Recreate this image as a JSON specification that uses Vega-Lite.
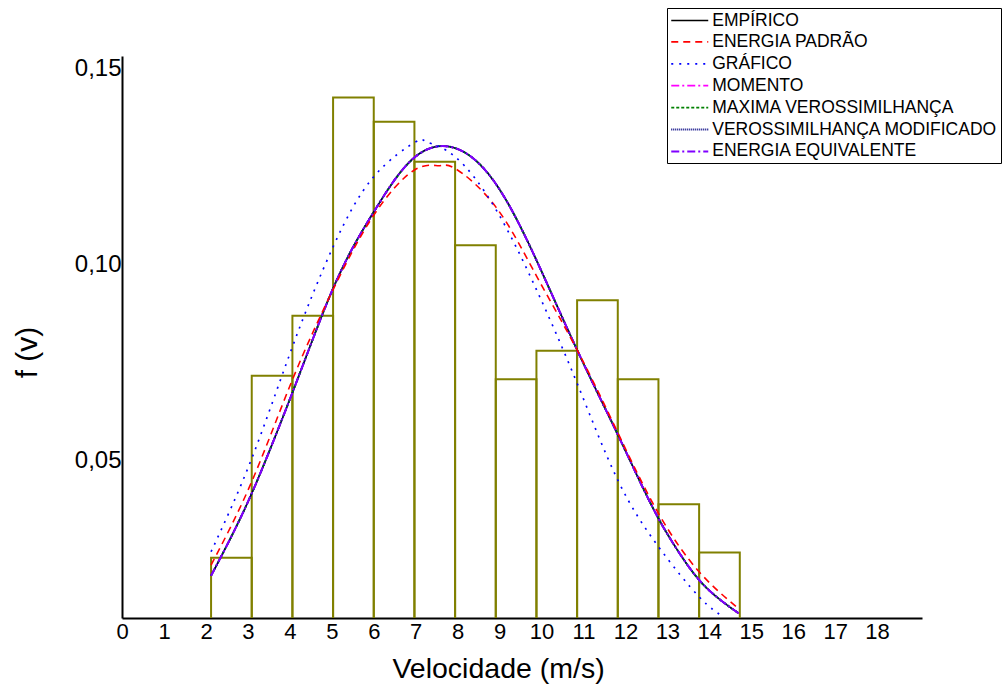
{
  "$schema": "https://vega.github.io/schema/vega-lite/v6.json",
  "width": 800,
  "height": 562,
  "autosize": {"type": "none"},
  "padding": {"left": 122, "top": 56, "right": 82, "bottom": 68},
  "background": "white",
  "config": {
    "view": {"stroke": null},
    "font": "Liberation Sans",
    "axis": {
      "domainColor": "black",
      "domainWidth": 2,
      "ticks": false,
      "grid": false,
      "labelColor": "black",
      "titleColor": "black",
      "labelFont": "Liberation Sans",
      "titleFont": "Liberation Sans",
      "titleFontWeight": "normal"
    },
    "legend": {
      "orient": "none",
      "legendX": 545,
      "legendY": -48,
      "symbolType": "M-2.114,0H2.114",
      "symbolSize": 306.25,
      "symbolOffset": 9.75,
      "symbolStrokeWidth": 2,
      "symbolFillColor": "transparent",
      "labelFont": "Liberation Sans",
      "labelFontSize": 17.5,
      "labelColor": "black",
      "labelOffset": 12.5,
      "labelLimit": 400,
      "rowPadding": 2.9,
      "padding": 3,
      "strokeColor": "black",
      "fillColor": "white"
    }
  },
  "encoding": {
    "x": {
      "field": "x",
      "type": "quantitative",
      "scale": {"domain": [-0.19, 19.48], "nice": false, "zero": false},
      "axis": {
        "title": "Velocidade (m/s)",
        "values": [-0.1869, 0.8444, 1.8756, 2.9068, 3.938, 4.9693, 6.0005, 7.0317, 8.063, 9.0942, 10.1254, 11.1566, 12.1878, 13.2191, 14.2503, 15.2815, 16.3127, 17.344, 18.3752],
        "labelExpr": "format(round((datum.value*40.67+7.6)/41.94), 'd')",
        "labelFontSize": 22,
        "labelBaseline": "alphabetic",
        "labelPadding": 20,
        "labelFlush": false,
        "labelOverlap": false,
        "titleFontSize": 28.5,
        "titleX": 376,
        "titleY": 59,
        "titleBaseline": "alphabetic",
        "titleAlign": "center"
      }
    },
    "y": {
      "field": "y",
      "type": "quantitative",
      "scale": {"domain": [0.0097, 0.1531], "nice": false, "zero": false},
      "axis": {
        "title": "f (v)",
        "values": [0.05, 0.1, 0.15],
        "labelExpr": "replace(format(datum.value, '.2f'), '.', ',')",
        "labelFontSize": 24,
        "labelPadding": 1,
        "labelFlush": false,
        "titleFontSize": 30,
        "titleX": -86,
        "titleY": 296,
        "titleAlign": "center",
        "titleBaseline": "alphabetic"
      }
    }
  },
  "layer": [
    {
      "data": {
        "values": [
          {"x": 2, "x2": 3, "y": 0.0251},
          {"x": 3, "x2": 4, "y": 0.0715},
          {"x": 4, "x2": 5, "y": 0.0868},
          {"x": 5, "x2": 6, "y": 0.1425},
          {"x": 6, "x2": 7, "y": 0.1363},
          {"x": 7, "x2": 8, "y": 0.1261},
          {"x": 8, "x2": 9, "y": 0.1048},
          {"x": 9, "x2": 10, "y": 0.0706},
          {"x": 10, "x2": 11, "y": 0.0779},
          {"x": 11, "x2": 12, "y": 0.0908},
          {"x": 12, "x2": 13, "y": 0.0706},
          {"x": 13, "x2": 14, "y": 0.0387},
          {"x": 14, "x2": 15, "y": 0.0264}
        ]
      },
      "mark": {"type": "rect", "fill": "transparent", "stroke": "#808000", "strokeWidth": 2, "clip": true},
      "encoding": {
        "x2": {"field": "x2"},
        "y2": {"datum": 0}
      }
    },
    {
      "data": {
        "values": [
          {"x": 2.0, "y": 0.0205, "s": ["EMPÍRICO", "MOMENTO", "MAXIMA VEROSSIMILHANÇA", "VEROSSIMILHANÇA MODIFICADO", "ENERGIA EQUIVALENTE"]},
          {"x": 2.5, "y": 0.0305, "s": ["EMPÍRICO", "MOMENTO", "MAXIMA VEROSSIMILHANÇA", "VEROSSIMILHANÇA MODIFICADO", "ENERGIA EQUIVALENTE"]},
          {"x": 3.0, "y": 0.0415, "s": ["EMPÍRICO", "MOMENTO", "MAXIMA VEROSSIMILHANÇA", "VEROSSIMILHANÇA MODIFICADO", "ENERGIA EQUIVALENTE"]},
          {"x": 3.5, "y": 0.0540, "s": ["EMPÍRICO", "MOMENTO", "MAXIMA VEROSSIMILHANÇA", "VEROSSIMILHANÇA MODIFICADO", "ENERGIA EQUIVALENTE"]},
          {"x": 4.0, "y": 0.0672, "s": ["EMPÍRICO", "MOMENTO", "MAXIMA VEROSSIMILHANÇA", "VEROSSIMILHANÇA MODIFICADO", "ENERGIA EQUIVALENTE"]},
          {"x": 4.5, "y": 0.0808, "s": ["EMPÍRICO", "MOMENTO", "MAXIMA VEROSSIMILHANÇA", "VEROSSIMILHANÇA MODIFICADO", "ENERGIA EQUIVALENTE"]},
          {"x": 5.0, "y": 0.0938, "s": ["EMPÍRICO", "MOMENTO", "MAXIMA VEROSSIMILHANÇA", "VEROSSIMILHANÇA MODIFICADO", "ENERGIA EQUIVALENTE"]},
          {"x": 5.5, "y": 0.1045, "s": ["EMPÍRICO", "MOMENTO", "MAXIMA VEROSSIMILHANÇA", "VEROSSIMILHANÇA MODIFICADO", "ENERGIA EQUIVALENTE"]},
          {"x": 6.0, "y": 0.1133, "s": ["EMPÍRICO", "MOMENTO", "MAXIMA VEROSSIMILHANÇA", "VEROSSIMILHANÇA MODIFICADO", "ENERGIA EQUIVALENTE"]},
          {"x": 6.5, "y": 0.1213, "s": ["EMPÍRICO", "MOMENTO", "MAXIMA VEROSSIMILHANÇA", "VEROSSIMILHANÇA MODIFICADO", "ENERGIA EQUIVALENTE"]},
          {"x": 7.0, "y": 0.1272, "s": ["EMPÍRICO", "MOMENTO", "MAXIMA VEROSSIMILHANÇA", "VEROSSIMILHANÇA MODIFICADO", "ENERGIA EQUIVALENTE"]},
          {"x": 7.5, "y": 0.1299, "s": ["EMPÍRICO", "MOMENTO", "MAXIMA VEROSSIMILHANÇA", "VEROSSIMILHANÇA MODIFICADO", "ENERGIA EQUIVALENTE"]},
          {"x": 8.0, "y": 0.1296, "s": ["EMPÍRICO", "MOMENTO", "MAXIMA VEROSSIMILHANÇA", "VEROSSIMILHANÇA MODIFICADO", "ENERGIA EQUIVALENTE"]},
          {"x": 8.5, "y": 0.1265, "s": ["EMPÍRICO", "MOMENTO", "MAXIMA VEROSSIMILHANÇA", "VEROSSIMILHANÇA MODIFICADO", "ENERGIA EQUIVALENTE"]},
          {"x": 9.0, "y": 0.1205, "s": ["EMPÍRICO", "MOMENTO", "MAXIMA VEROSSIMILHANÇA", "VEROSSIMILHANÇA MODIFICADO", "ENERGIA EQUIVALENTE"]},
          {"x": 9.5, "y": 0.1117, "s": ["EMPÍRICO", "MOMENTO", "MAXIMA VEROSSIMILHANÇA", "VEROSSIMILHANÇA MODIFICADO", "ENERGIA EQUIVALENTE"]},
          {"x": 10.0, "y": 0.1010, "s": ["EMPÍRICO", "MOMENTO", "MAXIMA VEROSSIMILHANÇA", "VEROSSIMILHANÇA MODIFICADO", "ENERGIA EQUIVALENTE"]},
          {"x": 10.5, "y": 0.0895, "s": ["EMPÍRICO", "MOMENTO", "MAXIMA VEROSSIMILHANÇA", "VEROSSIMILHANÇA MODIFICADO", "ENERGIA EQUIVALENTE"]},
          {"x": 11.0, "y": 0.0781, "s": ["EMPÍRICO", "MOMENTO", "MAXIMA VEROSSIMILHANÇA", "VEROSSIMILHANÇA MODIFICADO", "ENERGIA EQUIVALENTE"]},
          {"x": 11.5, "y": 0.0672, "s": ["EMPÍRICO", "MOMENTO", "MAXIMA VEROSSIMILHANÇA", "VEROSSIMILHANÇA MODIFICADO", "ENERGIA EQUIVALENTE"]},
          {"x": 12.0, "y": 0.0565, "s": ["EMPÍRICO", "MOMENTO", "MAXIMA VEROSSIMILHANÇA", "VEROSSIMILHANÇA MODIFICADO", "ENERGIA EQUIVALENTE"]},
          {"x": 12.5, "y": 0.0455, "s": ["EMPÍRICO", "MOMENTO", "MAXIMA VEROSSIMILHANÇA", "VEROSSIMILHANÇA MODIFICADO", "ENERGIA EQUIVALENTE"]},
          {"x": 13.0, "y": 0.0351, "s": ["EMPÍRICO", "MOMENTO", "MAXIMA VEROSSIMILHANÇA", "VEROSSIMILHANÇA MODIFICADO", "ENERGIA EQUIVALENTE"]},
          {"x": 13.5, "y": 0.0265, "s": ["EMPÍRICO", "MOMENTO", "MAXIMA VEROSSIMILHANÇA", "VEROSSIMILHANÇA MODIFICADO", "ENERGIA EQUIVALENTE"]},
          {"x": 14.0, "y": 0.0194, "s": ["EMPÍRICO", "MOMENTO", "MAXIMA VEROSSIMILHANÇA", "VEROSSIMILHANÇA MODIFICADO", "ENERGIA EQUIVALENTE"]},
          {"x": 14.5, "y": 0.0145, "s": ["EMPÍRICO", "MOMENTO", "MAXIMA VEROSSIMILHANÇA", "VEROSSIMILHANÇA MODIFICADO", "ENERGIA EQUIVALENTE"]},
          {"x": 14.97, "y": 0.0109, "s": ["EMPÍRICO", "MOMENTO", "MAXIMA VEROSSIMILHANÇA", "VEROSSIMILHANÇA MODIFICADO", "ENERGIA EQUIVALENTE"]},
          {"x": 2.0, "y": 0.0232, "s": ["ENERGIA PADRÃO"]},
          {"x": 3.0, "y": 0.0445, "s": ["ENERGIA PADRÃO"]},
          {"x": 4.0, "y": 0.0705, "s": ["ENERGIA PADRÃO"]},
          {"x": 5.0, "y": 0.0935, "s": ["ENERGIA PADRÃO"]},
          {"x": 6.0, "y": 0.1125, "s": ["ENERGIA PADRÃO"]},
          {"x": 7.0, "y": 0.1240, "s": ["ENERGIA PADRÃO"]},
          {"x": 7.6, "y": 0.1251, "s": ["ENERGIA PADRÃO"]},
          {"x": 8.0, "y": 0.1244, "s": ["ENERGIA PADRÃO"]},
          {"x": 9.0, "y": 0.1146, "s": ["ENERGIA PADRÃO"]},
          {"x": 10.0, "y": 0.0970, "s": ["ENERGIA PADRÃO"]},
          {"x": 11.0, "y": 0.0781, "s": ["ENERGIA PADRÃO"]},
          {"x": 12.0, "y": 0.0570, "s": ["ENERGIA PADRÃO"]},
          {"x": 13.0, "y": 0.0364, "s": ["ENERGIA PADRÃO"]},
          {"x": 14.0, "y": 0.0215, "s": ["ENERGIA PADRÃO"]},
          {"x": 14.97, "y": 0.0121, "s": ["ENERGIA PADRÃO"]},
          {"x": 2.0, "y": 0.0266, "s": ["GRÁFICO"]},
          {"x": 3.0, "y": 0.0504, "s": ["GRÁFICO"]},
          {"x": 4.0, "y": 0.0789, "s": ["GRÁFICO"]},
          {"x": 5.0, "y": 0.1044, "s": ["GRÁFICO"]},
          {"x": 6.0, "y": 0.1223, "s": ["GRÁFICO"]},
          {"x": 7.0, "y": 0.1310, "s": ["GRÁFICO"]},
          {"x": 7.3, "y": 0.1312, "s": ["GRÁFICO"]},
          {"x": 8.0, "y": 0.1274, "s": ["GRÁFICO"]},
          {"x": 9.0, "y": 0.1140, "s": ["GRÁFICO"]},
          {"x": 10.0, "y": 0.0935, "s": ["GRÁFICO"]},
          {"x": 11.0, "y": 0.0696, "s": ["GRÁFICO"]},
          {"x": 12.0, "y": 0.0449, "s": ["GRÁFICO"]},
          {"x": 13.0, "y": 0.0279, "s": ["GRÁFICO"]},
          {"x": 14.0, "y": 0.0151, "s": ["GRÁFICO"]},
          {"x": 14.6, "y": 0.0100, "s": ["GRÁFICO"]}
        ]
      },
      "transform": [{"flatten": ["s"]}],
      "mark": {"type": "line", "interpolate": "natural", "clip": true},
      "encoding": {
        "color": {
          "field": "s",
          "type": "nominal",
          "scale": {
            "domain": ["EMPÍRICO", "ENERGIA PADRÃO", "GRÁFICO", "MOMENTO", "MAXIMA VEROSSIMILHANÇA", "VEROSSIMILHANÇA MODIFICADO", "ENERGIA EQUIVALENTE"],
            "range": ["#000000", "#FF0000", "#0000FF", "#FF00FF", "#008000", "#000080", "#8000FF"]
          },
          "legend": {"title": null}
        },
        "strokeDash": {
          "field": "s",
          "type": "nominal",
          "scale": {
            "domain": ["EMPÍRICO", "ENERGIA PADRÃO", "GRÁFICO", "MOMENTO", "MAXIMA VEROSSIMILHANÇA", "VEROSSIMILHANÇA MODIFICADO", "ENERGIA EQUIVALENTE"],
            "range": [[1, 0], [7, 5], [2, 6], [8, 3, 2, 3], [3, 2], [1, 1], [8, 3, 2, 3]]
          },
          "legend": {"title": null}
        },
        "strokeWidth": {
          "field": "s",
          "type": "nominal",
          "scale": {
            "domain": ["EMPÍRICO", "ENERGIA PADRÃO", "GRÁFICO", "MOMENTO", "MAXIMA VEROSSIMILHANÇA", "VEROSSIMILHANÇA MODIFICADO", "ENERGIA EQUIVALENTE"],
            "range": [1.5, 2, 2.5, 2, 2, 2, 2]
          },
          "legend": null
        }
      }
    }
  ]
}
